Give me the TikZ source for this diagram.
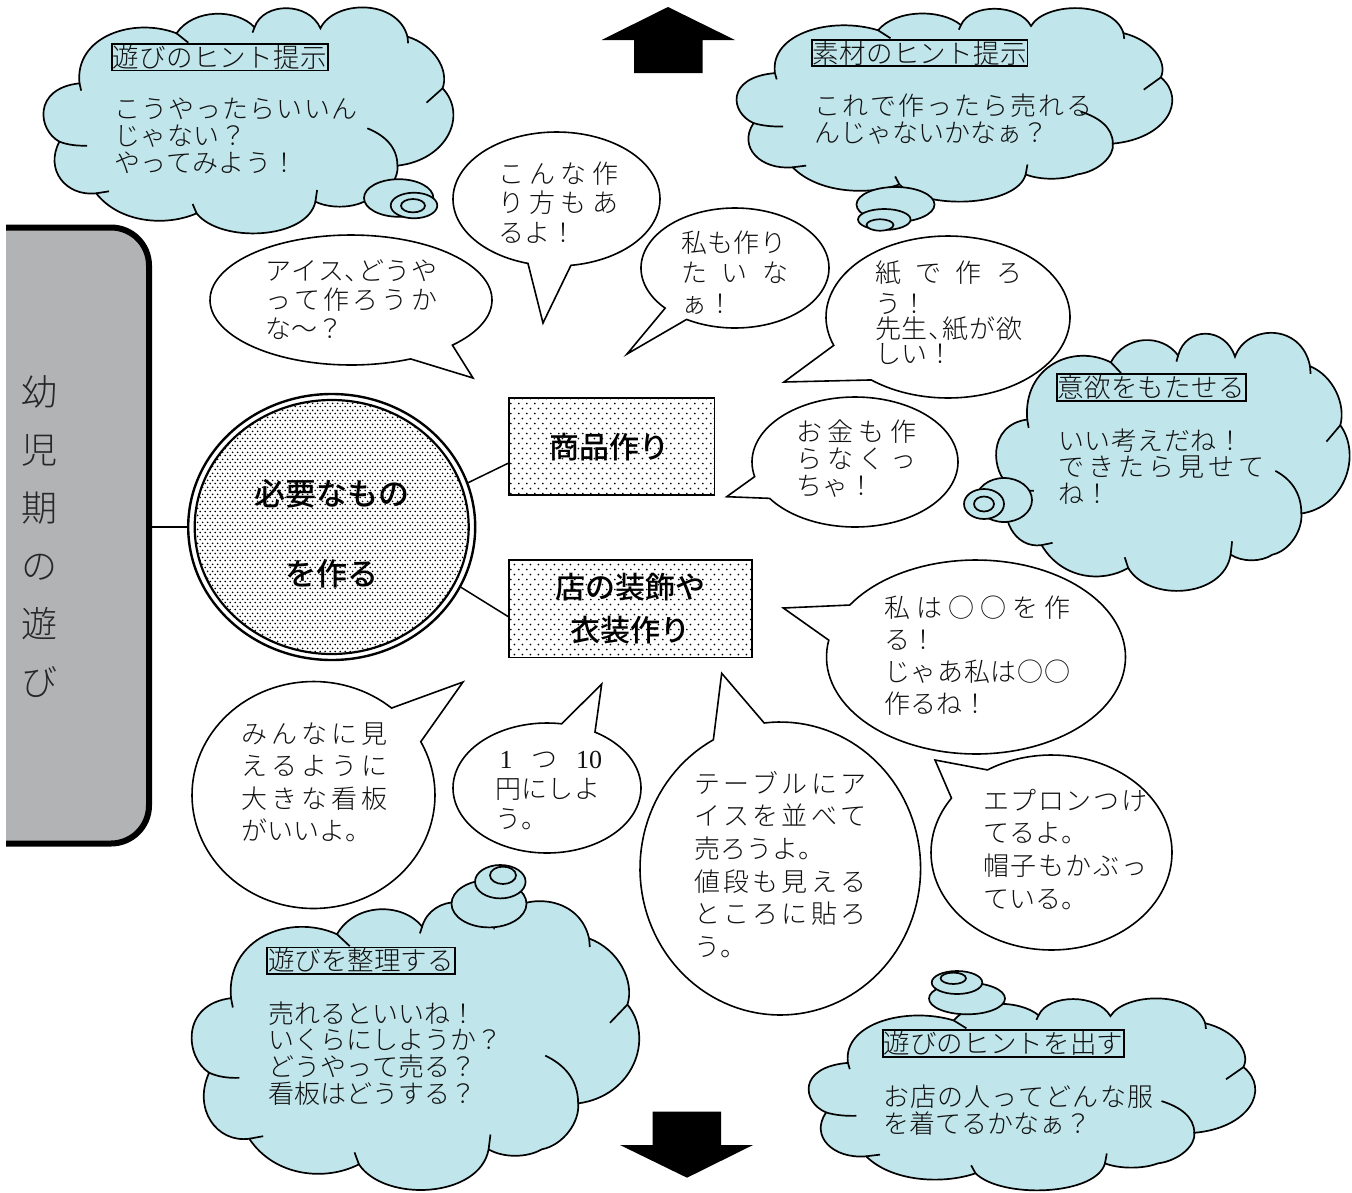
\documentclass[tikz,border=0pt]{standalone}
\usepackage{fontspec}
\setmainfont{Noto Sans CJK JP Light}
\newfontfamily\jpreg{Noto Sans CJK JP Medium}
\newfontfamily\lat{Liberation Serif}
\usetikzlibrary{shapes.geometric,patterns,calc}
\pgfdeclarepatternformonly{rectdots}{\pgfqpoint{0pt}{0pt}}{\pgfqpoint{7.6pt}{10.4pt}}{\pgfqpoint{7.6pt}{10.4pt}}{\pgfpathcircle{\pgfqpoint{1.9pt}{2.6pt}}{1pt}\pgfpathcircle{\pgfqpoint{5.7pt}{7.8pt}}{1pt}\pgfusepath{fill}}
\pgfdeclarepatternformonly{circdots}{\pgfqpoint{0pt}{0pt}}{\pgfqpoint{5.4pt}{7pt}}{\pgfqpoint{5.4pt}{7pt}}{\pgfpathcircle{\pgfqpoint{1.35pt}{1.75pt}}{1.05pt}\pgfpathcircle{\pgfqpoint{4.05pt}{5.25pt}}{1.05pt}\pgfusepath{fill}}
\definecolor{cloudblue}{HTML}{C0E6EC}
\definecolor{panelgrey}{HTML}{B2B3B5}
\definecolor{txtcol}{HTML}{111111}
\makeatletter
\newcommand\spr[2]{\makebox[#1pt][s]{\rule[-.12em]{0pt}{1em}\def\sepx{\def\sepx{\hfil}}\@tfor\cc:=#2\do{\sepx{\cc}}}}
\makeatother
\newcommand\hc{\makebox[13pt][l]{、}}
\newcommand\fz[2]{\fontsize{#1}{#2}\selectfont\lineskiplimit=-100pt\relax}
\newcommand\cloudat[4]{%
\begin{scope}[shift={(#1,#2)},xscale=#3/1237,yscale=#4/683,shift={(-125,-22)}]
\draw[cloudline,fill=cloudblue]
 (240,250) .. controls (225,110) and (400,50) .. (530,100)
 .. controls (580,25) and (710,25) .. (763,82)
 .. controls (790,5) and (925,5) .. (960,85)
 .. controls (1000,0) and (1190,-5) .. (1220,110)
 .. controls (1300,135) and (1345,210) .. (1325,265)
 .. controls (1400,345) and (1340,480) .. (1190,497)
 .. controls (1195,540) and (1150,595) .. (1090,605)
 .. controls (1050,625) and (985,625) .. (945,605)
 .. controls (920,720) and (660,730) .. (590,640)
 .. controls (500,680) and (360,670) .. (290,580)
 .. controls (200,590) and (135,510) .. (180,425)
 .. controls (115,390) and (100,265) .. (240,250) -- cycle;
\draw[cloudline] (240,250) -- (245,272);
\draw[cloudline] (530,100) -- (565,128);
\draw[cloudline] (763,82) -- (757,98);
\draw[cloudline] (1220,110) -- (1222,130);
\draw[cloudline] (1325,265) -- (1277,308);
\draw[cloudline] (1190,497) .. controls (1190,440) and (1150,405) .. (1100,385);
\draw[cloudline] (945,605) -- (950,570);
\draw[cloudline] (590,640) -- (578,612);
\draw[cloudline] (290,580) -- (328,574);
\draw[cloudline] (180,425) .. controls (205,435) and (235,438) .. (263,437);
\end{scope}}
\newcommand\thought[4]{\draw[cloudline,fill=cloudblue] (#1,#2) ellipse [x radius=#3pt,y radius=#4pt];}
\newcommand\bub[7]{\draw[bubbleline] plot[domain=#5:#6,samples=120] ({#1+#3*cos(\x)},{#2+#4*sin(\x)}) -- (#7) -- cycle;}
\tikzset{
 cloudline/.style={line width=1.7pt,black},
 bubbleline/.style={line width=1.6pt,black,fill=white},
 txt/.style={anchor=north west,align=left,inner sep=0pt,text=txtcol},
 titlebox/.style={draw=black,line width=1.8pt,inner sep=0pt,text=txtcol,font=\fz{26.5}{27}},
 dotbox/.style={draw=black,line width=1.6pt,pattern=rectdots,inner sep=0pt,align=center},
 boxlabel/.style={inner sep=0pt,align=center,text=black},
 link/.style={line width=1.5pt,black}
}
\begin{document}
\begin{tikzpicture}[x=1pt,y=-1pt]
\useasboundingbox (0,0) rectangle (1352,1192);
% left panel
\draw[fill=panelgrey,line width=6pt,rounded corners=38pt] (6,227.5) -- (149,227.5) -- (149,843.5) -- (6,843.5);
\node[inner sep=0pt,align=center,text=black!85,font=\fz{36}{58}] (panel) at (39,537) {幼\\児\\期\\の\\遊\\び};
\coordinate (panelE) at (152,527);
% main circle
\node[ellipse,draw=black,line width=2.4pt,fill=white,minimum width=287pt,minimum height=266pt,inner sep=0pt] (mainc) at (331.7,527) {};
\node[ellipse,draw=black,line width=2.2pt,pattern=circdots,minimum width=274pt,minimum height=254pt,inner sep=0pt] (maini) at (331.7,527) {};
\node[boxlabel,font=\jpreg\fz{31}{80}] (mainl) at (331.7,533.5) {必要なもの\\を作る};
\draw[link] (panelE) -- (mainc.west);
% boxes
\node[dotbox,minimum width=205.4pt,minimum height=97.3pt] (prod) at (611.7,446.4) {};
\node[boxlabel,font=\jpreg\fz{30}{40}] (prodl) at (609,447) {商品作り};
\node[dotbox,minimum width=243pt,minimum height=97.3pt] (deco) at (630.5,608.7) {};
\node[boxlabel,font=\jpreg\fz{30}{43}] (decol) at (630.5,609) {店の装飾や\\衣装作り};
\coordinate (prodW) at ($(prod.south west)!.33!(prod.north west)$);
\coordinate (decoW) at ($(deco.south west)!.42!(deco.north west)$);
\draw[link] (mainc.18) -- (prodW);
\draw[link] (mainc.-25) -- (decoW);
% block arrows
\fill (668,7) -- (735,40) -- (702.6,40) -- (702.6,73) -- (634,73) -- (634,40) -- (601.5,40) -- cycle;
\fill (687,1177.7) -- (753,1145) -- (721,1145) -- (721,1111.7) -- (652.6,1111.7) -- (652.6,1145) -- (620,1145) -- cycle;
% clouds
\cloudat{41}{7.3}{414}{227.7}
\thought{398.7}{198}{34.7}{18.8}
\thought{414}{205.5}{23.3}{12.8}
\thought{413}{205.7}{12}{6.7}
\cloudat{734}{8}{440}{195}
\thought{895.5}{204.5}{39}{17.5}
\thought{884.3}{219.5}{26.3}{10.5}
\thought{880}{225}{13.5}{5.7}
\cloudat{994}{332.7}{357}{260}
\thought{1004}{500}{28}{22}
\thought{984}{504}{20}{15}
\thought{984}{504}{10}{7.5}
\cloudat{189}{901}{452}{291}
\thought{489}{903.7}{37.5}{23.7}
\thought{500.3}{881.7}{25.3}{16.7}
\thought{503}{875.3}{13}{8.7}
\cloudat{806}{998.3}{451}{193.4}
\thought{967}{998.5}{38}{15.8}
\thought{957}{982.5}{25.3}{11.5}
\thought{953.3}{978.3}{12.7}{5.7}
% speech bubbles
\bub{351}{300}{141}{65}{65}{404}{473,378}
\bub{556.5}{199}{103.5}{67}{106}{442}{543,323}
\bub{735}{268}{94}{60}{138}{481}{627,354}
\bub{948}{317}{122}{81}{159.5}{489}{784,382}
\bub{855}{462}{103}{65}{167}{506}{726.7,496.7}
\bub{976}{657}{149.5}{97}{212.4}{550}{783.3,608}
\bub{1051.5}{852.5}{120.5}{97.5}{237.9}{573.9}{935,760}
\bub{780.3}{868.5}{140.3}{146.5}{263.4}{601.5}{721.7,673.3}
\bub{547}{788}{94}{65}{300.7}{639}{601.7,684}
\bub{313.5}{795}{121.5}{113.5}{332}{670}{463,682}
% cloud titles
\node[titlebox,minimum width=216pt,minimum height=26pt] (tt1) at (219.7,57.3) {\spr{214}{遊びのヒント提示}};
\node[titlebox,minimum width=215.4pt,minimum height=26pt] (tt2) at (919.7,53) {\spr{214}{素材のヒント提示}};
\node[titlebox,minimum width=189pt,minimum height=25pt] (tt3) at (1151.2,387.5) {\spr{187}{意欲をもたせる}};
\node[titlebox,minimum width=188pt,minimum height=26.3pt] (tt4) at (361,960.8) {\spr{186}{遊びを整理する}};
\node[titlebox,minimum width=241.6pt,minimum height=25pt] (tt5) at (1003.5,1043.5) {\spr{240}{遊びのヒントを出す}};
% cloud texts
\node[txt,font=\fz{26}{27}] (c1) at (114,108-13) {\spr{243}{こうやったらいいん}\\\spr{132}{じゃない？}\\\spr{183}{やってみよう！}};
\node[txt,font=\fz{26}{27}] (c2) at (814,105-13) {\spr{278}{これで作ったら売れる}\\\spr{234}{んじゃないかなぁ？}};
\node[txt,font=\fz{26}{26.5}] (c3) at (1058,440-13) {\spr{185}{いい考えだね！}\\\spr{206}{できたら見せて}\\\spr{52}{ね！}};
\node[txt,font=\fz{26}{26.8}] (c4) at (268,1013-13) {\spr{208}{売れるといいね！}\\\spr{234}{いくらにしようか？}\\\spr{208}{どうやって売る？}\\\spr{208}{看板はどうする？}};
\node[txt,font=\fz{26}{27}] (c5) at (883,1096-13) {\spr{270}{お店の人ってどんな服}\\\spr{207}{を着てるかなぁ？}};
% bubble texts
\node[txt,font=\fz{26}{29}] (b1) at (265,270-13) {\spr{172}{アイス\hc どうや}\\\spr{172}{って作ろうか}\\\spr{75}{な～？}};
\node[txt,font=\fz{26}{29.5}] (b2) at (498,173-13) {\spr{120}{こんな作}\\\spr{120}{り方もあ}\\\spr{72}{るよ！}};
\node[txt,font=\fz{26}{30.5}] (b3) at (681,242-13) {\spr{105}{私も作り}\\\spr{107}{たいな}\\\spr{44}{ぁ！}};
\node[txt,font=\fz{26}{25}] (b4) at (875,272-13) {\spr{147}{紙で作ろ}\\[6pt]\spr{50}{う！}\\\spr{147}{先生\hc 紙が欲}\\\spr{75}{しい！}};
\node[txt,font=\fz{26}{27}] (b5) at (796,431-13) {\spr{120}{お金も作}\\\spr{120}{らなくっ}\\\spr{73}{ちゃ！}};
\node[txt,font=\fz{26}{32}] (b6) at (884,607-13) {\spr{186}{私は○○を作}\\\spr{52}{る！}\\\spr{186}{じゃあ私は○○}\\\spr{100}{作るね！}};
\node[txt,font=\fz{26}{32.7}] (b7) at (983,800-13) {\spr{164}{エプロンつけ}\\\spr{92}{てるよ。}\\\spr{164}{帽子もかぶっ}\\\spr{92}{ている。}};
\node[txt,font=\fz{26}{32.7}] (b8) at (694,783-13) {\spr{172}{テーブルにア}\\\spr{172}{イスを並べて}\\\spr{121}{売ろうよ。}\\\spr{172}{値段も見える}\\\spr{172}{ところに貼ろ}\\\spr{52}{う。}};
\node[txt,font=\fz{26}{30}] (b9) at (495,758-13) {\spr{107}{{\lat\,1}{つ}{\lat 10}}\\\spr{105}{円にしよ}\\\spr{52}{う。}};
\node[txt,font=\fz{26}{32.5}] (b10) at (241,733-13) {\spr{146}{みんなに見}\\\spr{146}{えるように}\\\spr{146}{大きな看板}\\\spr{120}{がいいよ。}};
\end{tikzpicture}
\end{document}
